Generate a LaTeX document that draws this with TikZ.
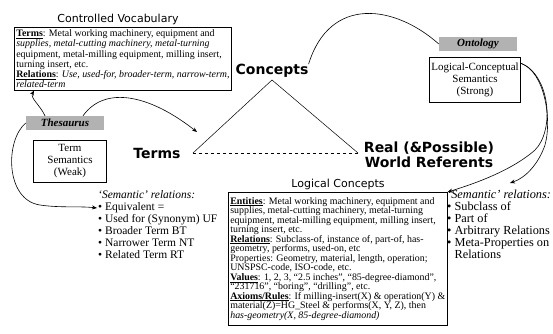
\documentclass[tikz,border=0pt]{standalone}
\usepackage{fontspec}
\setmainfont{Liberation Serif}
\newfontfamily\dsans{DejaVu Sans}
\usetikzlibrary{arrows.meta}
\begin{document}
\begin{tikzpicture}[x=1pt,y=-1pt,
  bx/.style={draw, line width=0.6pt, inner sep=2pt},
  heavy/.style={font=\dsans\bfseries\fontsize{14}{15}\selectfont, inner sep=0pt},
  ttl/.style={font=\dsans\fontsize{11}{12}\selectfont, inner sep=0pt},
  shade/.style={fill=black!30, inner sep=1pt, minimum width=78pt, minimum height=14pt, font=\bfseries\itshape\fontsize{11}{12}\selectfont},
  conn/.style={line width=0.6pt, -{Stealth[length=5pt,width=4pt]}},
  plain/.style={line width=0.6pt}]
\useasboundingbox (0,0) rectangle (553,333);

\node[ttl] (cvt) at (118,19) {Controlled Vocabulary};
\node[bx, anchor=north west, minimum width=214pt, minimum height=63pt, align=left, font=\fontsize{9.9}{10.2}\selectfont] (cv) at (14,27) {\underline{\textbf{Terms}}: Metal working machinery, equipment and\\
\textit{supplies, metal-cutting machinery, metal-turning}\\
equipment, metal-milling equipment, milling insert,\\
turning insert, etc.\\
\underline{\textbf{Relations}}: \textit{Use, used-for, broader-term, narrow-term,}\\
\textit{related-term}};

\node[shade] (thes) at (65,123) {Thesaurus};
\node[bx, minimum width=73pt, minimum height=42pt, align=center, font=\fontsize{11}{12}\selectfont] (ts) at (70,161) {Term\\Semantics\\(Weak)};

\node[heavy] (terms) at (157,153) {Terms};
\node[heavy] (concepts) at (272,71) {Concepts};
\node[heavy, align=center] (real) at (429,155) {Real (\&Possible)\\World Referents};

\coordinate (apex) at (272,80);
\coordinate (tl) at (193,153);
\coordinate (tr) at (358,153);
\draw[line width=0.5pt] (tl) -- (apex) -- (tr);
\draw[line width=0.5pt, dashed] (tl) -- (tr);

\node[shade] (onto) at (478,44) {Ontology};
\node[bx, minimum width=91pt, minimum height=45pt, align=center, font=\fontsize{11}{12}\selectfont] (lcs) at (475,80) {Logical-Conceptual\\Semantics\\(Strong)};

\node[ttl] (lct) at (338,184) {Logical Concepts};
\node[bx, anchor=north west, minimum width=215pt, minimum height=133pt, align=left, font=\fontsize{9.9}{9.5}\selectfont] (lc) at (228,192) {\underline{\textbf{Entities}}: Metal working machinery, equipment and\\
supplies, metal-cutting machinery, metal-turning\\
equipment, metal-milling equipment, milling insert,\\
turning insert, etc.\\
\underline{\textbf{Relations}}: Subclass-of, instance of, part-of, has-\\
geometry, performs, used-on, etc\\
Properties: Geometry, material, length, operation;\\
UNSPSC-code, ISO-code, etc.\\
\underline{\textbf{Values}}: 1, 2, 3, “2.5 inches”, “85-degree-diamond”,\\
“231716”, “boring”, “drilling”, etc.\\
\underline{\textbf{Axioms/Rules}}: If milling-insert(X) \& operation(Y) \&\\
material(Z)=HG\_Steel \& performs(X, Y, Z), then\\
\textit{has-geometry(X, 85-degree-diamond)}};

\node[anchor=north west, align=left, inner sep=0pt, font=\fontsize{11.5}{12}\selectfont] (lrel) at (98,190) {\textit{‘Semantic’ relations:}\\
\textbullet\ Equivalent =\\
\textbullet\ Used for (Synonym) UF\\
\textbullet\ Broader Term BT\\
\textbullet\ Narrower Term NT\\
\textbullet\ Related Term RT};

\node[anchor=north west, align=left, inner sep=0pt, font=\fontsize{12.3}{12}\selectfont] (rrel) at (447,190) {\textit{‘Semantic’ relations:}\\
\textbullet\ Subclass of\\
\textbullet\ Part of\\
\textbullet\ Arbitrary Relations\\
\textbullet\ Meta-Properties on\\
\phantom{\textbullet\ }Relations};

\coordinate (tarr) at (197,132);
\coordinate (eqpt) at (97,208);
\coordinate (rarr) at (510,183);

\draw[conn] ([xshift=-20pt]thes.north) .. controls (40,105) and (30,98) .. ([xshift=20pt]cv.south west);
\draw[conn] ([xshift=18pt]thes.north) .. controls (105,85) and (150,95) .. (tarr);
\draw[conn] (thes.west) .. controls (5,140) and (5,200) .. (40,205) .. controls (60,208) and (80,206) .. (eqpt);
\draw[plain] (concepts.north east) .. controls (330,-5) and (395,5) .. (onto.west);
\draw[conn] (lcs.20) .. controls (550,75) and (555,130) .. (535,150) .. controls (510,172) and (470,185) .. (lc.north east);
\draw[conn] (lcs.20) .. controls (545,72) and (552,120) .. (545,145) .. controls (538,165) and (525,178) .. (rarr);
\end{tikzpicture}
\end{document}
